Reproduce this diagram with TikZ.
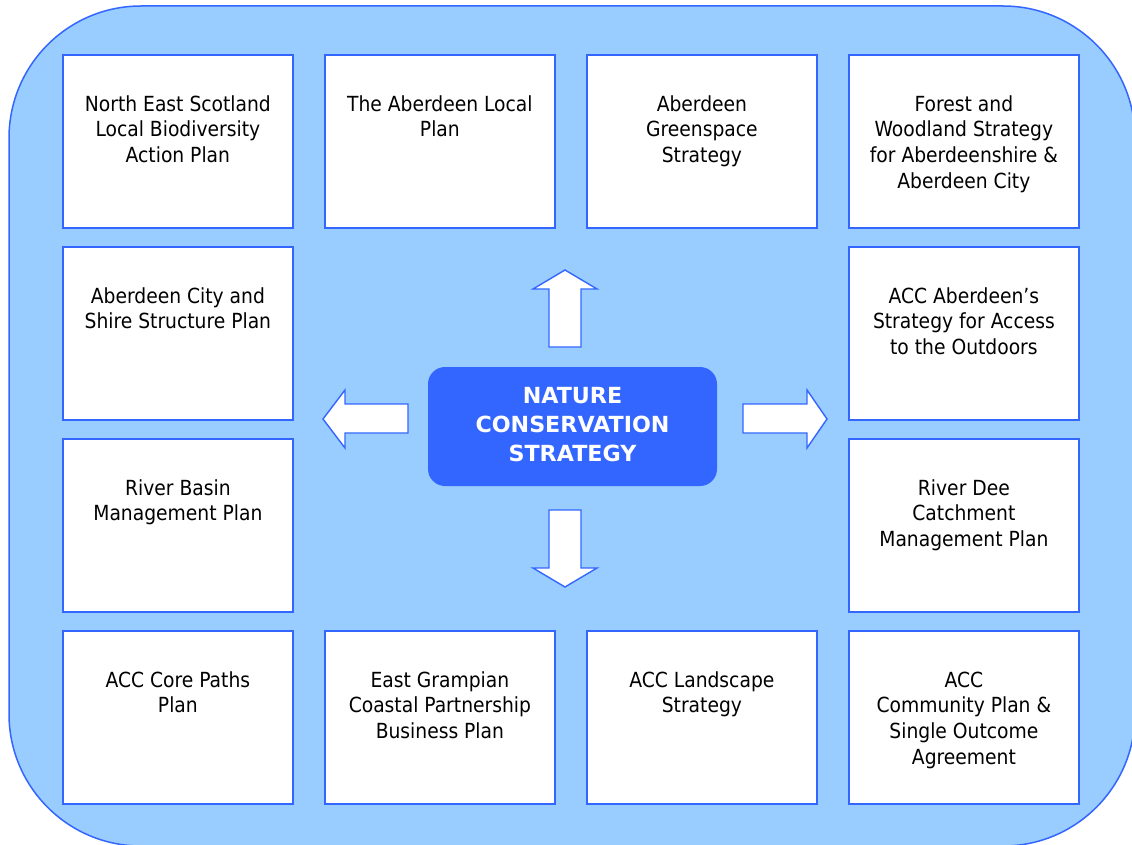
\documentclass[tikz,border=0pt]{standalone}
\usepackage{fontspec}
\setmainfont{DejaVu Sans}
\newfontfamily\plainfont{DejaVu Sans Condensed}
\begin{document}
\definecolor{outerfill}{HTML}{99CCFF}
\definecolor{edgeblue}{HTML}{3366FF}
\begin{tikzpicture}[x=1pt,y=-1pt,
  plan/.style={draw=edgeblue,line width=1.8pt,fill=white,minimum width=230pt,minimum height=173pt,inner sep=0pt,anchor=north west},
  plantext/.style={anchor=north,inner sep=0pt,align=center,font=\plainfont\fontsize{20.8pt}{25.7pt}\selectfont,text=black},
  blockarrow/.style={draw=edgeblue,line width=1.4pt,fill=white,line join=miter},
  core/.style={draw=none,fill=edgeblue,rounded corners=17pt,minimum width=289pt,minimum height=119pt,inner sep=0pt}]
\useasboundingbox (0,0) rectangle (1132,845);
\begin{scope}
\clip (0,0) rectangle (1132,845);
\draw[draw=edgeblue,line width=1.5pt,fill=outerfill,rounded corners=132pt] (9,6) rectangle (1135,846);
\end{scope}
% boxes
\node[plan] (b11) at (62,54) {};
\node[plan] (b21) at (324,54) {};
\node[plan] (b31) at (586,54) {};
\node[plan] (b41) at (848,54) {};
\node[plan] (b12) at (62,246) {};
\node[plan] (b42) at (848,246) {};
\node[plan] (b13) at (62,438) {};
\node[plan] (b43) at (848,438) {};
\node[plan] (b14) at (62,630) {};
\node[plan] (b24) at (324,630) {};
\node[plan] (b34) at (586,630) {};
\node[plan] (b44) at (848,630) {};
\newcommand{\fl}{\rule{0pt}{18pt}}
\node[plantext] (t11) at ([yshift=-39pt]b11.north) {\fl North East Scotland\\Local Biodiversity\\Action Plan};
\node[plantext] (t21) at ([yshift=-39pt]b21.north) {\fl The Aberdeen Local\\Plan};
\node[plantext] (t31) at ([yshift=-39pt]b31.north) {\fl Aberdeen\\Greenspace\\Strategy};
\node[plantext] (t41) at ([yshift=-39pt]b41.north) {\fl Forest and\\Woodland Strategy\\for Aberdeenshire \&\\Aberdeen City};
\node[plantext] (t12) at ([yshift=-39pt]b12.north) {\fl Aberdeen City and\\Shire Structure Plan};
\node[plantext] (t42) at ([yshift=-39pt]b42.north) {\fl ACC Aberdeen’s\\Strategy for Access\\to the Outdoors};
\node[plantext] (t13) at ([yshift=-39pt]b13.north) {\fl River Basin\\Management Plan};
\node[plantext] (t43) at ([yshift=-39pt]b43.north) {\fl River Dee\\Catchment\\Management Plan};
\node[plantext] (t14) at ([yshift=-39pt]b14.north) {\fl ACC Core Paths\\Plan};
\node[plantext] (t24) at ([yshift=-39pt]b24.north) {\fl East Grampian\\Coastal Partnership\\Business Plan};
\node[plantext] (t34) at ([yshift=-39pt]b34.north) {\fl ACC Landscape\\Strategy};
\node[plantext] (t44) at ([yshift=-39pt]b44.north) {\fl ACC\\Community Plan \&\\Single Outcome\\Agreement};
% centre
\node[core] (ncs) at (572.5,426.5) {};
\node[inner sep=0pt,align=center,text=white,font=\fontsize{22.2pt}{29pt}\selectfont\bfseries] (ncstext) at (572.5,424.5) {NATURE\\CONSERVATION\\STRATEGY};
% block arrows
\draw[blockarrow] (549,347) -- (549,289) -- (533,289) -- (565,270) -- (597,289) -- (581,289) -- (581,347) -- cycle;
\draw[blockarrow] (549,510) -- (549,568) -- (533,568) -- (565,587) -- (597,568) -- (581,568) -- (581,510) -- cycle;
\draw[blockarrow] (408,404) -- (345,404) -- (345,390) -- (323,419) -- (345,448) -- (345,433) -- (408,433) -- cycle;
\draw[blockarrow] (743,404) -- (807,404) -- (807,390) -- (827,419) -- (807,448) -- (807,433) -- (743,433) -- cycle;
\end{tikzpicture}
\end{document}
